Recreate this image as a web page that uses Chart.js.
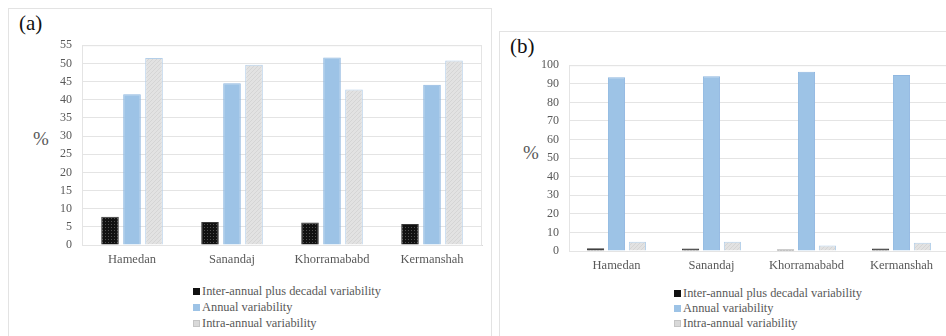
<!DOCTYPE html>
<html>
<head>
<meta charset="utf-8">
<script src="https://cdn.jsdelivr.net/npm/chart.js@4.4.1/dist/chart.umd.min.js"></script>
<style>
  html, body { margin: 0; padding: 0; width: 946px; height: 336px; overflow: hidden; background: #fff; }
  body { position: relative; font-family: 'Liberation Serif', serif; color: #595959; }
  .panel { position: absolute; border: 1px solid #e3e3e3; background: #fff; }
  .tag { position: absolute; font-size: 21px; color: #111; }
  .pct { position: absolute; font-size: 19px; color: #595959; }
  .cv { position: absolute; }
  .legend { position: absolute; font-size: 12.4px; color: #595959; }
  .legend span.sw { display: inline-block; width: 7px; height: 7px; margin-right: 2px; vertical-align: 0px; box-sizing: border-box; }
</style>
</head>
<body>
<div class="panel" style="left:8px; top:8px; width:482px; height:340px;"></div>
<div class="panel" style="left:499px; top:31px; width:460px; height:320px;"></div>

<div class="tag" style="left:19px; top:11px;">(a)</div>
<div class="pct" style="left:33px; top:128px;">%</div>
<div class="cv" style="left:8px; top:28px; width:482px; height:246px;"><canvas id="chartA"></canvas></div>
<div class="legend" id="legendA" style="left:193px; top:283px; line-height:16px;"></div>

<div class="tag" style="left:510px; top:34px;">(b)</div>
<div class="pct" style="left:523px; top:142px;">%</div>
<div class="cv" style="left:499px; top:48px; width:460px; height:232px;"><canvas id="chartB"></canvas></div>
<div class="legend" id="legendB" style="left:674px; top:286px; line-height:15px;"></div>

<script>
// data
const stations = ['Hamedan', 'Sanandaj', 'Khorramababd', 'Kermanshah'];
const seriesNames = ['Inter-annual plus decadal variability', 'Annual variability', 'Intra-annual variability'];

// (a)
const interDecadalA = [7.8, 6.3, 6.2, 5.8];
const annualA = [41.5, 44.5, 51.6, 44.1];
const intraAnnualA = [51.5, 49.6, 42.8, 50.8];
const ticksA = { max: 55, step: 5 };

// (b)
const interDecadalB = [1.5, 1.3, 0.8, 1.3];
const annualB = [93.5, 94.0, 96.5, 94.7];
const intraAnnualB = [5.0, 5.0, 3.0, 4.5];
const ticksB = { max: 100, step: 10 };

const FONT = 'Liberation Serif';

// fill patterns, like the office chart
function dotPattern() {
  const c = document.createElement('canvas');
  c.width = 3; c.height = 3;
  const g = c.getContext('2d');
  g.fillStyle = '#111';
  g.fillRect(0, 0, 3, 3);
  g.fillStyle = '#505050';
  g.fillRect(1, 1, 1, 1);
  return g.createPattern(c, 'repeat');
}
function hatchPattern() {
  const c = document.createElement('canvas');
  c.width = 4; c.height = 4;
  const g = c.getContext('2d');
  g.fillStyle = '#e2e2e2';
  g.fillRect(0, 0, 4, 4);
  g.fillStyle = '#d5d5d5';
  for (let i = 0; i < 4; i++) g.fillRect(3 - i, i, 1, 1);
  return g.createPattern(c, 'repeat');
}

const fills = [dotPattern(), '#9dc3e6', hatchPattern()];
const borders = ['#3a3a3a', '#8fb7e0', '#b4cfe9'];
const swatches = ['#111', '#9dc3e6', '#d9d9d9'];

// thin frame round the plot area
const frame = {
  id: 'frame',
  beforeDatasetsDraw(chart) {
    const a = chart.chartArea, g = chart.ctx;
    g.save();
    g.strokeStyle = '#e4e4e4';
    g.lineWidth = 1;
    g.strokeRect(a.left + 0.5, a.top + 0.5, a.right - a.left - 1, a.bottom - a.top);
    g.restore();
  }
};

function makeChart(id, values, ticks, axisW, padRight, cat, bar) {
  const ctx = document.getElementById(id);
  return new Chart(ctx, {
    type: 'bar',
    data: {
      labels: stations,
      datasets: values.map((v, i) => ({
        label: seriesNames[i],
        data: v,
        backgroundColor: fills[i],
        borderColor: borders[i],
        borderWidth: 1,
        categoryPercentage: cat,
        barPercentage: bar,
      })),
    },
    plugins: [frame],
    options: {
      responsive: true,
      maintainAspectRatio: false,
      animation: false,
      layout: { padding: { top: 8, right: padRight, bottom: 0, left: 0 } },
      plugins: { legend: { display: false }, tooltip: { enabled: false } },
      scales: {
        x: {
          grid: { display: false, drawTicks: false },
          border: { color: '#d9d9d9' },
          ticks: { color: '#595959', font: { family: FONT, size: 12.5 }, padding: 7 },
        },
        y: {
          min: 0, max: ticks.max,
          afterFit: s => { s.width = axisW; },
          grid: { color: '#e4e4e4', drawTicks: false },
          border: { display: false },
          ticks: { stepSize: ticks.step, color: '#595959', font: { family: FONT, size: 12 }, padding: 10 },
        },
      },
    },
  });
}

function makeLegend(id) {
  document.getElementById(id).innerHTML = seriesNames
    .map((n, i) => `<div><span class="sw" style="background:${swatches[i]};${i === 2 ? 'border:1px solid #c4c4c4;' : ''}"></span>${n}</div>`)
    .join('');
}

makeChart('chartA', [interDecadalA, annualA, intraAnnualA], ticksA, 74, 8, 0.66, 0.8);
makeChart('chartB', [interDecadalB, annualB, intraAnnualB], ticksB, 70, 10, 0.66, 0.82);
makeLegend('legendA');
makeLegend('legendB');
</script>
</body>
</html>
